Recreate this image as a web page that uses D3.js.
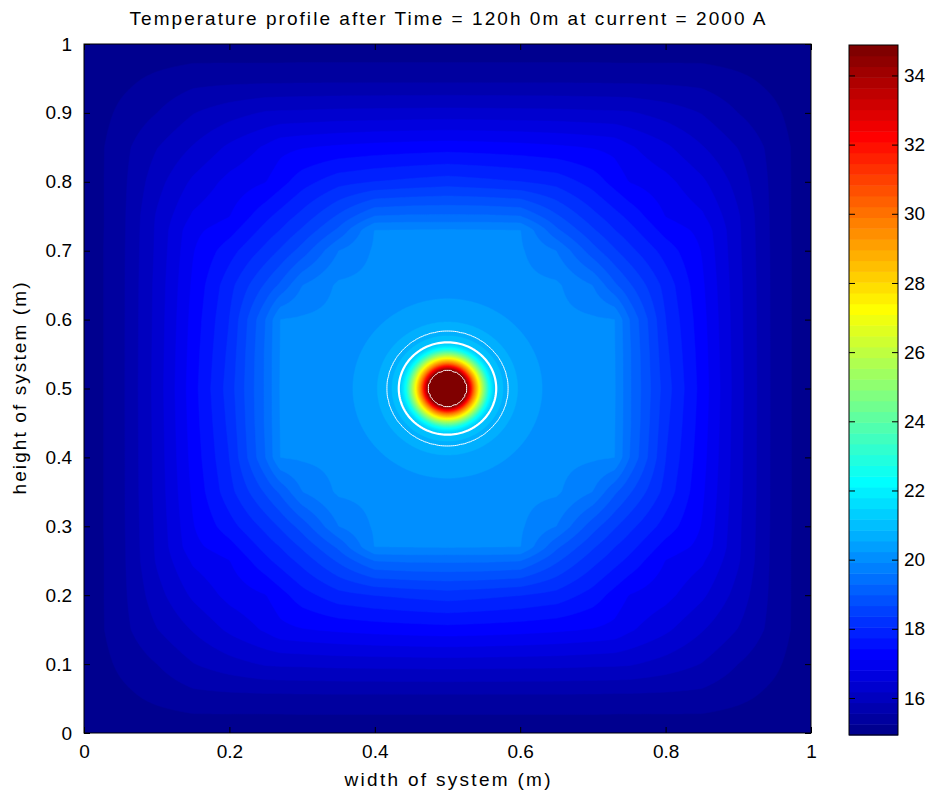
<!DOCTYPE html>
<html>
<head>
<meta charset="utf-8">
<script src="https://cdn.jsdelivr.net/npm/d3@7"></script>
<style>
  body { margin: 0; background: #fff; }
  text { font-family: "Liberation Sans", Arial, sans-serif; fill: #000; }
</style>
</head>
<body>
<svg id="chart" width="932" height="798"></svg>
<script>
const title = 'Temperature profile after Time = 120h 0m at current = 2000 A';
const xLabel = 'width of system (m)';
const yLabel = 'height of system (m)';

// distance from the nearest wall (m), rows = vertical, cols = horizontal
const wallDist = [0, 0.05, 0.1, 0.15, 0.2, 0.25, 0.27, 0.3, 0.35, 0.4, 0.45, 0.5];
// background temperature (degC) on that grid, one quarter of the square
const bgTemp = [
  [15, 15, 15, 15, 15, 15, 15, 15, 15, 15, 15, 15],
  [15, 15.15, 15.30, 15.43, 15.44, 15.44, 15.44, 15.45, 15.45, 15.45, 15.45, 15.45],
  [15, 15.30, 15.55, 15.85, 16.05, 16.21, 16.23, 16.24, 16.27, 16.28, 16.29, 16.30],
  [15, 15.43, 15.85, 16.20, 16.55, 16.85, 17.02, 17.09, 17.17, 17.23, 17.27, 17.30],
  [15, 15.44, 16.05, 16.55, 16.90, 17.10, 17.30, 17.60, 17.93, 18.05, 18.13, 18.20],
  [15, 15.44, 16.21, 16.85, 17.10, 17.65, 17.85, 18.15, 18.72, 19.30, 19.35, 19.35],
  [15, 15.44, 16.23, 17.02, 17.30, 17.85, 18.05, 18.40, 19.04, 19.93, 19.94, 19.95],
  [15, 15.45, 16.24, 17.09, 17.60, 18.15, 18.40, 18.80, 19.60, 19.96, 19.98, 20.00],
  [15, 15.45, 16.27, 17.17, 17.93, 18.72, 19.04, 19.60, 19.97, 20.01, 20.03, 20.05],
  [15, 15.45, 16.28, 17.23, 18.05, 19.30, 19.93, 19.96, 20.01, 20.04, 20.06, 20.08],
  [15, 15.45, 16.29, 17.27, 18.13, 19.35, 19.94, 19.98, 20.03, 20.06, 20.09, 20.10],
  [15, 15.45, 16.30, 17.30, 18.20, 19.35, 19.95, 20.00, 20.05, 20.08, 20.10, 20.12]
];
// hot spot around the conductor at (0.5, 0.5): radius (m) -> temperature
const hotRadius = [0, 0.015, 0.0266, 0.031, 0.036, 0.043, 0.05, 0.057, 0.063, 0.07, 0.083, 0.1, 0.13, 0.16, 0.2];
const hotTemp = [34.88, 34.8, 34.57, 32.5, 30.0, 27.4, 24.8, 22.4, 21.4, 21.0, 20.7, 20.5, 20.23, 20.0, 14.0];
const hotCentre = [0.5, 0.5];

const lineLevels = [20.7, 21.17, 34.5];
const lineWidths = [1, 2.2, 1];

const xTicks = [0, 0.2, 0.4, 0.6, 0.8, 1];
const yTicks = [0, 0.1, 0.2, 0.3, 0.4, 0.5, 0.6, 0.7, 0.8, 0.9, 1];
const cbTicks = [16, 18, 20, 22, 24, 26, 28, 30, 32, 34];
const tMin = 14.93, tMax = 34.88;
const nColors = 64;

const svg = d3.select('#chart');
const plot = { left: 84, top: 44, right: 811, bottom: 733 };
const W = plot.right - plot.left, H = plot.bottom - plot.top;
const x = d3.scaleLinear().domain([0, 1]).range([plot.left, plot.right]);
const y = d3.scaleLinear().domain([0, 1]).range([plot.bottom, plot.top]);
const cb = { left: 849, right: 898, top: 45, bottom: 735 };
const c = d3.scaleLinear().domain([tMin, tMax]).range([cb.bottom, cb.top]);

// matlab jet, entry k = 1..64
function jet(k) {
  const t = k / nColors;
  const f = v => Math.round(255 * Math.max(0, Math.min(1, 1.5 - Math.abs(4 * t - v))));
  return `rgb(${f(3)},${f(2)},${f(1)})`;
}

function locate(d) {
  let i = d3.bisectRight(wallDist, d) - 1;
  i = Math.max(0, Math.min(wallDist.length - 2, i));
  return [i, (d - wallDist[i]) / (wallDist[i + 1] - wallDist[i])];
}
function background(px, py) {
  const [i, u] = locate(Math.min(py, 1 - py));
  const [j, v] = locate(Math.min(px, 1 - px));
  return (1 - u) * (1 - v) * bgTemp[i][j] + (1 - u) * v * bgTemp[i][j + 1]
       + u * (1 - v) * bgTemp[i + 1][j] + u * v * bgTemp[i + 1][j + 1];
}
const hot = d3.scaleLinear().domain(hotRadius).range(hotTemp).clamp(true);

// sample the field on a grid for d3.contours
const n = 364, m = 345;
const values = new Float64Array(n * m);
for (let j = 0; j < m; j++) {
  const py = 1 - (j + 0.5) / m;
  for (let i = 0; i < n; i++) {
    const px = (i + 0.5) / n;
    const r = Math.hypot(px - hotCentre[0], py - hotCentre[1]);
    values[j * n + i] = Math.max(background(px, py), hot(r));
  }
}

const proj = d3.geoTransform({
  point(gx, gy) { this.stream.point(plot.left + gx * W / n, plot.top + gy * H / m); }
});
const path = d3.geoPath(proj);

svg.append('clipPath').attr('id', 'clip')
  .append('rect').attr('x', plot.left).attr('y', plot.top).attr('width', W).attr('height', H);

const field = svg.append('g').attr('clip-path', 'url(#clip)');
field.append('rect')
  .attr('x', plot.left).attr('y', plot.top).attr('width', W).attr('height', H)
  .attr('fill', jet(1));

const levels = d3.range(nColors).map(k => tMin + k * (tMax - tMin) / nColors);
const bands = d3.contours().size([n, m]).thresholds(levels)(values);
field.selectAll('path.band')
  .data(bands)
  .join('path')
  .attr('class', 'band')
  .attr('d', path)
  .attr('fill', d => jet(levels.indexOf(d.value) + 1))
  .attr('stroke', d => jet(levels.indexOf(d.value) + 1))
  .attr('stroke-width', 0.5);

const lines = d3.contours().size([n, m]).thresholds(lineLevels)(values);
field.selectAll('path.iso')
  .data(lines)
  .join('path')
  .attr('class', 'iso')
  .attr('d', path)
  .attr('fill', 'none')
  .attr('stroke', '#fff')
  .attr('stroke-width', (d, k) => lineWidths[k]);

// axes box with inward ticks
const fmt = d => String(d);
const tickLen = 6;
svg.append('g').attr('transform', `translate(0,${plot.bottom})`)
  .call(d3.axisBottom(x).tickValues(xTicks).tickSize(-tickLen).tickPadding(12).tickFormat(fmt));
svg.append('g').attr('transform', `translate(0,${plot.top})`)
  .call(d3.axisTop(x).tickValues(xTicks).tickSize(-tickLen).tickFormat(''));
svg.append('g').attr('transform', `translate(${plot.left},0)`)
  .call(d3.axisLeft(y).tickValues(yTicks).tickSize(-tickLen).tickPadding(12).tickFormat(fmt));
svg.append('g').attr('transform', `translate(${plot.right},0)`)
  .call(d3.axisRight(y).tickValues(yTicks).tickSize(-tickLen).tickFormat(''));
svg.selectAll('.domain').remove();
svg.selectAll('.tick line').attr('stroke', '#000');
svg.selectAll('.tick text').style('font-size', '19px').attr('fill', '#000');
svg.append('rect')
  .attr('x', plot.left).attr('y', plot.top).attr('width', W).attr('height', H)
  .attr('fill', 'none').attr('stroke', '#000');

// colorbar
const bar = svg.append('g');
bar.selectAll('rect.cell')
  .data(levels)
  .join('rect')
  .attr('class', 'cell')
  .attr('x', cb.left)
  .attr('width', cb.right - cb.left)
  .attr('y', (d, k) => c(k + 1 < nColors ? levels[k + 1] : tMax))
  .attr('height', (d, k) => c(d) - c(k + 1 < nColors ? levels[k + 1] : tMax) + 0.5)
  .attr('fill', (d, k) => jet(k + 1));
bar.append('g').attr('transform', `translate(${cb.right},0)`)
  .call(d3.axisRight(c).tickValues(cbTicks).tickSize(-tickLen).tickPadding(6).tickFormat(fmt));
bar.append('g').attr('transform', `translate(${cb.left},0)`)
  .call(d3.axisLeft(c).tickValues(cbTicks).tickSize(-tickLen).tickFormat(''));
bar.selectAll('.domain').remove();
bar.selectAll('.tick line').attr('stroke', '#000');
bar.selectAll('.tick text').style('font-size', '19px').attr('fill', '#000');
bar.append('rect')
  .attr('x', cb.left).attr('y', cb.top).attr('width', cb.right - cb.left).attr('height', cb.bottom - cb.top)
  .attr('fill', 'none').attr('stroke', '#000');

// titles
svg.append('text')
  .attr('x', (plot.left + plot.right) / 2).attr('y', 25)
  .attr('text-anchor', 'middle').style('font-size', '19px')
  .attr('textLength', 636).attr('lengthAdjust', 'spacing')
  .text(title);
svg.append('text')
  .attr('x', (plot.left + plot.right) / 2).attr('y', 786)
  .attr('text-anchor', 'middle').style('font-size', '19px')
  .attr('textLength', 206).attr('lengthAdjust', 'spacing')
  .text(xLabel);
svg.append('text')
  .attr('transform', `translate(26,${(plot.top + plot.bottom) / 2}) rotate(-90)`)
  .attr('text-anchor', 'middle').style('font-size', '19px')
  .attr('textLength', 212).attr('lengthAdjust', 'spacing')
  .text(yLabel);
</script>
</body>
</html>
